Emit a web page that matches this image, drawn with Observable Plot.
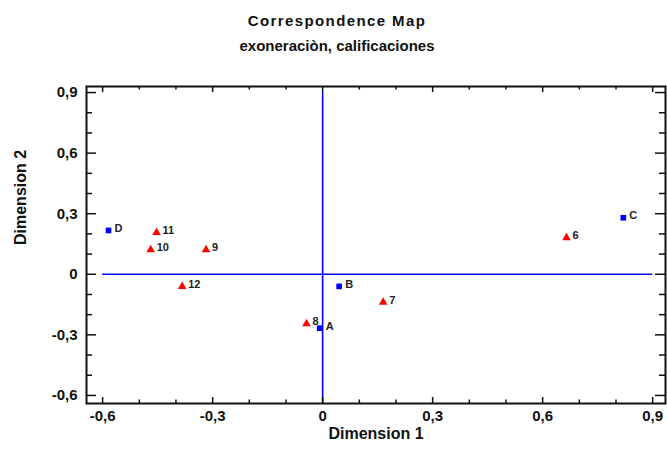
<!DOCTYPE html>
<html><head><meta charset="utf-8">
<script src="https://cdn.jsdelivr.net/npm/d3@7"></script>
<script src="https://cdn.jsdelivr.net/npm/@observablehq/plot@0.6"></script>
<style>body{margin:0;background:#fff;}</style>
</head><body><div id="chart"></div>
<script>
// Column points (blue squares)
const colLabels = ["A", "B", "C", "D"];
const colX = [-0.008, 0.045, 0.820, -0.584];
const colY = [-0.267, -0.060, 0.280, 0.217];
// Row points (red triangles)
const rowLabels = ["6", "7", "8", "9", "10", "11", "12"];
const rowX = [0.665, 0.165, -0.044, -0.318, -0.469, -0.453, -0.383];
const rowY = [0.181, -0.138, -0.245, 0.121, 0.121, 0.207, -0.060];
// Ticks
const majorTicks = [-0.6, -0.3, 0, 0.3, 0.6, 0.9];
const tickLabels = ["-0,6", "-0,3", "0", "0,3", "0,6", "0,9"];
const minorTicks = [-0.5, -0.4, -0.2, -0.1, 0.1, 0.2, 0.4, 0.5, 0.7, 0.8];
const titleLines = ["Correspondence Map", "exoneraciòn, calificaciones"];
const xTitle = "Dimension 1";
const yTitle = "Dimension 2";

const cols = colLabels.map((l, i) => ({label: l, x: colX[i], y: colY[i]}));
const rows = rowLabels.map((l, i) => ({label: l, x: rowX[i], y: rowY[i]}));

const W = 667, H = 449;
const mT = 86, mR = 2, mB = 46, mL = 86;
const iw = W - mL - mR, ih = H - mT - mB;
const xDomain = [-0.644, 0.935];
const yDomain = [-0.64, 0.93];
const font = "'Liberation Sans', Arial, sans-serif";
const ink = "#111";

const chart = Plot.plot({
  width: W, height: H,
  marginTop: mT, marginRight: mR, marginBottom: mB, marginLeft: mL,
  style: {fontFamily: font, background: "#fff"},
  x: {domain: xDomain, axis: null},
  y: {domain: yDomain, axis: null},
  marks: [
    // reference lines
    Plot.ruleY([0], {x1: majorTicks[0], x2: majorTicks[majorTicks.length - 1], stroke: "#0000ff", strokeWidth: 1.6}),
    Plot.ruleX([0], {y1: yDomain[0], y2: majorTicks[majorTicks.length - 1], stroke: "#0000ff", strokeWidth: 1.6}),
    // ticks bottom/top
    Plot.tickX(majorTicks, {x: d => d, insetTop: ih - 6, stroke: ink, strokeWidth: 1.5}),
    Plot.tickX(minorTicks, {x: d => d, insetTop: ih - 3.5, stroke: ink, strokeWidth: 1.5}),
    Plot.tickX(majorTicks, {x: d => d, insetBottom: ih - 6, stroke: ink, strokeWidth: 1.5}),
    Plot.tickX(minorTicks, {x: d => d, insetBottom: ih - 3.5, stroke: ink, strokeWidth: 1.5}),
    // ticks left/right
    Plot.tickY(majorTicks, {y: d => d, insetRight: iw - 10, stroke: ink, strokeWidth: 1.5}),
    Plot.tickY(minorTicks, {y: d => d, insetRight: iw - 6, stroke: ink, strokeWidth: 1.5}),
    Plot.tickY(majorTicks, {y: d => d, insetLeft: iw - 10, stroke: ink, strokeWidth: 1.5}),
    Plot.tickY(minorTicks, {y: d => d, insetLeft: iw - 6, stroke: ink, strokeWidth: 1.5}),
    Plot.frame({stroke: ink, strokeWidth: 2}),
    // tick labels
    Plot.text(majorTicks, {x: d => d, text: (d, i) => tickLabels[i], frameAnchor: "bottom", dy: 17, fontSize: 15, fontWeight: "bold", fill: ink}),
    Plot.text(majorTicks, {y: d => d, text: (d, i) => tickLabels[i], frameAnchor: "left", textAnchor: "end", dx: -9, fontSize: 15, fontWeight: "bold", fill: ink}),
    // axis titles
    Plot.text([xTitle], {text: d => d, frameAnchor: "bottom", dy: 35, fontSize: 16, fontWeight: "bold", fill: ink}),
    Plot.text([yTitle], {text: d => d, frameAnchor: "left", dx: -66, rotate: -90, fontSize: 16, fontWeight: "bold", fill: ink}),
    // chart title
    Plot.text([titleLines[0]], {text: d => d, frameAnchor: "top", dx: -39, dy: -71, fontSize: 15, fontWeight: "bold", fill: ink, className: "title1"}),
    Plot.text([titleLines[1]], {text: d => d, frameAnchor: "top", dx: -39, dy: -46, fontSize: 15, fontWeight: "bold", fill: ink}),
    // points
    Plot.dot(rows, {x: "x", y: "y", symbol: "triangle", fill: "#ff0000", r: 3.2}),
    Plot.dot(cols, {x: "x", y: "y", symbol: "square", fill: "#0000ff", r: 3.2}),
    Plot.text(rows, {x: "x", y: "y", text: "label", dx: 6, dy: -2, textAnchor: "start", fontSize: 11, fontWeight: "bold", fill: "#222"}),
    Plot.text(cols, {x: "x", y: "y", text: "label", dx: 6, dy: -2, textAnchor: "start", fontSize: 11, fontWeight: "bold", fill: "#222"})
  ]
});
document.getElementById("chart").appendChild(chart);
// wider letter spacing on the first title line
chart.querySelectorAll(".title1 text").forEach(t => t.setAttribute("letter-spacing", "1.4"));
</script>
</body></html>
